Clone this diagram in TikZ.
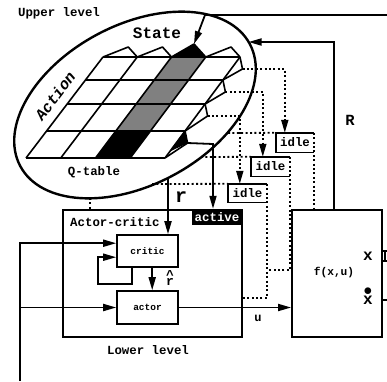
\documentclass[tikz,border=0pt]{standalone}
\usepackage{fontspec}
\setmainfont{Liberation Mono}
\usetikzlibrary{arrows.meta,calc}
\begin{document}
\begin{tikzpicture}[x=1pt,y=-1pt,
  thickline/.style={line width=1.8pt},
  arr/.style={line width=1.8pt,-{Triangle[length=13pt,width=7pt]}},
  dotline/.style={line width=1.8pt,dash pattern=on 2pt off 2.4pt},
  dotarr/.style={dotline,-{Triangle[length=13pt,width=7pt]}},
  gridline/.style={line width=1.6pt,line join=round},
  box/.style={draw,line width=1.8pt,inner sep=0pt,rectangle},
  fa/.style={font=\fontsize{12.4}{14}\selectfont\bfseries,inner sep=0pt},
  fs/.style={font=\fontsize{9.5}{11}\selectfont\bfseries,inner sep=0pt},
  idlebox/.style={fa,minimum width=38pt,minimum height=19pt},
  idleside/.style={line width=1.4pt}
]
\useasboundingbox (0,0) rectangle (387,381);
\fill[white] (0,0) rectangle (387,381);

% ---------- grid coordinates ----------
\coordinate (g00) at (103,57);   \coordinate (g10) at (137.25,57); \coordinate (g20) at (171.5,57);  \coordinate (g30) at (205.75,57); \coordinate (g40) at (240,57);
\coordinate (g01) at (85.5,80);  \coordinate (g11) at (119.85,80); \coordinate (g21) at (154.2,80);  \coordinate (g31) at (188.55,80); \coordinate (g41) at (222.9,80);
\coordinate (g02) at (67.2,104); \coordinate (g12) at (101.67,104);\coordinate (g22) at (136.15,104);\coordinate (g32) at (170.6,104); \coordinate (g42) at (205.1,104);
\coordinate (g03) at (46.6,131); \coordinate (g13) at (81.2,131);  \coordinate (g23) at (115.8,131); \coordinate (g33) at (150.45,131);\coordinate (g43) at (185.05,131);
\coordinate (g04) at (26,158);   \coordinate (g14) at (60.75,158); \coordinate (g24) at (95.5,158);  \coordinate (g34) at (130.25,158);\coordinate (g44) at (165,158);
% flap apexes
\coordinate (ft0) at (128.25,47); \coordinate (ft1) at (162.5,47); \coordinate (ft2) at (194,44); \coordinate (ft3) at (231,47);
\coordinate (fr0) at (242.5,69); \coordinate (fr1) at (225.4,92); \coordinate (fr2) at (207.6,116); \coordinate (fr3) at (187.55,143);

% ---------- fills ----------
\fill[black!50] (g20) -- (g30) -- (g33) -- (g23) -- cycle;
\fill[black] (g23) -- (g33) -- (g34) -- (g24) -- cycle;
\fill[black] (g20) -- (ft2) -- (g30) -- cycle;
\fill[black] (g43) -- (fr3) -- (169,152) -- cycle;

% ---------- grid lines ----------
\foreach \i in {0,...,4}{
  \draw[gridline] (g0\i) -- (g4\i);
  \draw[gridline] (g\i0) -- (g\i4);
}
\draw[gridline] (g00) -- (ft0) -- (g10);
\draw[gridline] (g10) -- (ft1) -- (g20);
\draw[gridline] (g20) -- (ft2) -- (g30);
\draw[gridline] (g30) -- (ft3) -- (g40);
\draw[gridline] (g40) -- (fr0) -- (g41);
\draw[gridline] (g41) -- (fr1) -- (g42);
\draw[gridline] (g42) -- (fr2) -- (g43);
\draw[gridline] (g43) -- (fr3) -- (g44);

% ---------- ellipse ----------
\draw[line width=2.4pt, rotate around={28:(135,105)}] (135,105) ellipse [x radius=130pt, y radius=80pt];
\coordinate (e1) at (228,133);
\coordinate (e2) at (201,157);
\coordinate (e3) at (152,184);
\coordinate (rstart) at (168,178);
\coordinate (qd) at (90,198);
\coordinate (Rin) at (248.5,42);
\coordinate (Sin) at (387,15);
\coordinate (Sbend) at (205,15);
\coordinate (abend) at (213,144);
\coordinate (Lin) at (20,381);
\coordinate (Lmid) at (20,307.5);
\coordinate (o1) at (387,251);
\coordinate (o2) at (387,261);
\coordinate (o3) at (387,300);

% ---------- boxes ----------
\node[box,minimum width=179pt,minimum height=127pt] (lower) at (152.5,273.5) {};
\node[box,minimum width=90pt,minimum height=127pt] (fbox) at (337,273.5) {};
\node[box,fs,line width=1.6pt,minimum width=61pt,minimum height=32pt] (critic) at (147.5,251) {critic};
\node[box,fs,line width=1.6pt,minimum width=61pt,minimum height=33pt] (actor) at (147.5,307.5) {actor};
\node[fa,fill=black,text=white,minimum width=50pt,minimum height=16pt] (active) at (217,217) {active};
\node[idlebox] (idle1) at (295,142.5) {idle};
\node[idlebox,minimum width=39pt] (idle2) at (270.5,166.5) {idle};
\node[idlebox,minimum width=39pt,minimum height=18pt] (idle3) at (247.5,193) {idle};
\foreach \n in {idle1,idle2,idle3}{
  \draw[idleside] (\n.north east) -- (\n.north west) -- (\n.south west) -- (\n.south east);
}

% ---------- dotted connectors ----------
\path (idle3.north east) ++(0,86) coordinate (j2);
\path (idle3.north east) ++(0,114) coordinate (j3);
\draw[dotarr] (fr0) -| ($(idle1.north west)+(9,0)$);
\draw[dotarr] (fr1) -| ($(idle2.north west)+(12,0)$);
\draw[dotarr] (fr2) -| ($(idle3.north west)+(12,0)$);
\draw[dotline] (e1) -- (idle1.north west);
\draw[dotline] (e2) -- (idle2.north west);
\draw[dotline] (e3) -- (idle3.north west);
\draw[dotline] (idle1.north east) -- (idle1.north east |- fbox.north);
\draw[dotline] (idle2.north east) |- (j2);
\draw[dotline] (idle3.north east) -- (j3) -- (j3 -| lower.east);
\draw[dotline] (qd) -- (qd |- lower.north);

% ---------- solid connectors ----------
\draw[arr] (Sin) -- (Sbend) -- (ft2);
\draw[arr] ($(fbox.north west)+(43,0)$) |- (Rin);
\draw[arr] (rstart) -- (rstart |- critic.north);
\draw[arr] (fr3) -- (abend) -- (abend |- active.north);
\draw[arr] (Lin) |- ($(critic.north west)+(0,9)$);
\draw[arr] (Lmid) -- (Lmid -| actor.west);
\draw[arr] (actor.east) -- (actor.east -| fbox.west);
\coordinate (c1) at ($(critic.south west)+(16,0)$);
\draw[arr] (c1) -- ++(0,16) -| ($(critic.north west)+(-18,23)$) -- ($(critic.north west)+(0,23)$);
\draw[arr] ($(critic.south west)+(36,0)$) -- ($(actor.north west)+(36,0)$);
\draw[thickline] (o1 -| fbox.east) -- (o1);
\draw[thickline] (o2 -| fbox.east) -- (o2);
\draw[thickline] ($(o1)+(-2,0)$) -- ($(o2)+(-2,0)$);
\draw[thickline] (o3 -| fbox.east) -- (o3);

% ---------- labels ----------
\node[fa] (upl) at (59,13) {Upper level};
\node[fa] (qt) at (94,172) {Q-table};
\node[fa] (lol) at (148,350) {Lower level};
\node[fa,anchor=west] (acl) at (70,222) {Actor-critic};
\node[font=\fontsize{16}{18}\selectfont\bfseries,inner sep=0pt] (st) at (157,33) {State};
\node[font=\fontsize{15.5}{17}\selectfont\bfseries\itshape,inner sep=0pt,rotate=52.7] (actl) at (55,96) {Action};
\node[font=\fontsize{15.5}{17}\selectfont\bfseries,inner sep=0pt] (Rl) at (350,120) {R};
\node[font=\fontsize{20}{22}\selectfont\bfseries,inner sep=0pt] (rl) at (181,197) {r};
\node[font=\fontsize{12}{14}\selectfont\bfseries,inner sep=0pt] (ul) at (258,318) {u};
\node[font=\fontsize{11.2}{13}\selectfont\bfseries,inner sep=0pt] (fl) at (334,273) {f(x,u)};
\node[font=\fontsize{16}{18}\selectfont\bfseries,inner sep=0pt] (xl) at (368,256) {x};
\node[font=\fontsize{16}{16}\selectfont\bfseries,inner sep=0pt,align=center] (xdl) at (368,296) {$\bullet$\\[-7pt]x};
\node[font=\fontsize{13}{15}\selectfont\bfseries,inner sep=0pt] (rh) at (170,278) {\makebox[0pt][l]{\raisebox{5.5pt}{\textasciicircum}}r};
\end{tikzpicture}
\end{document}
